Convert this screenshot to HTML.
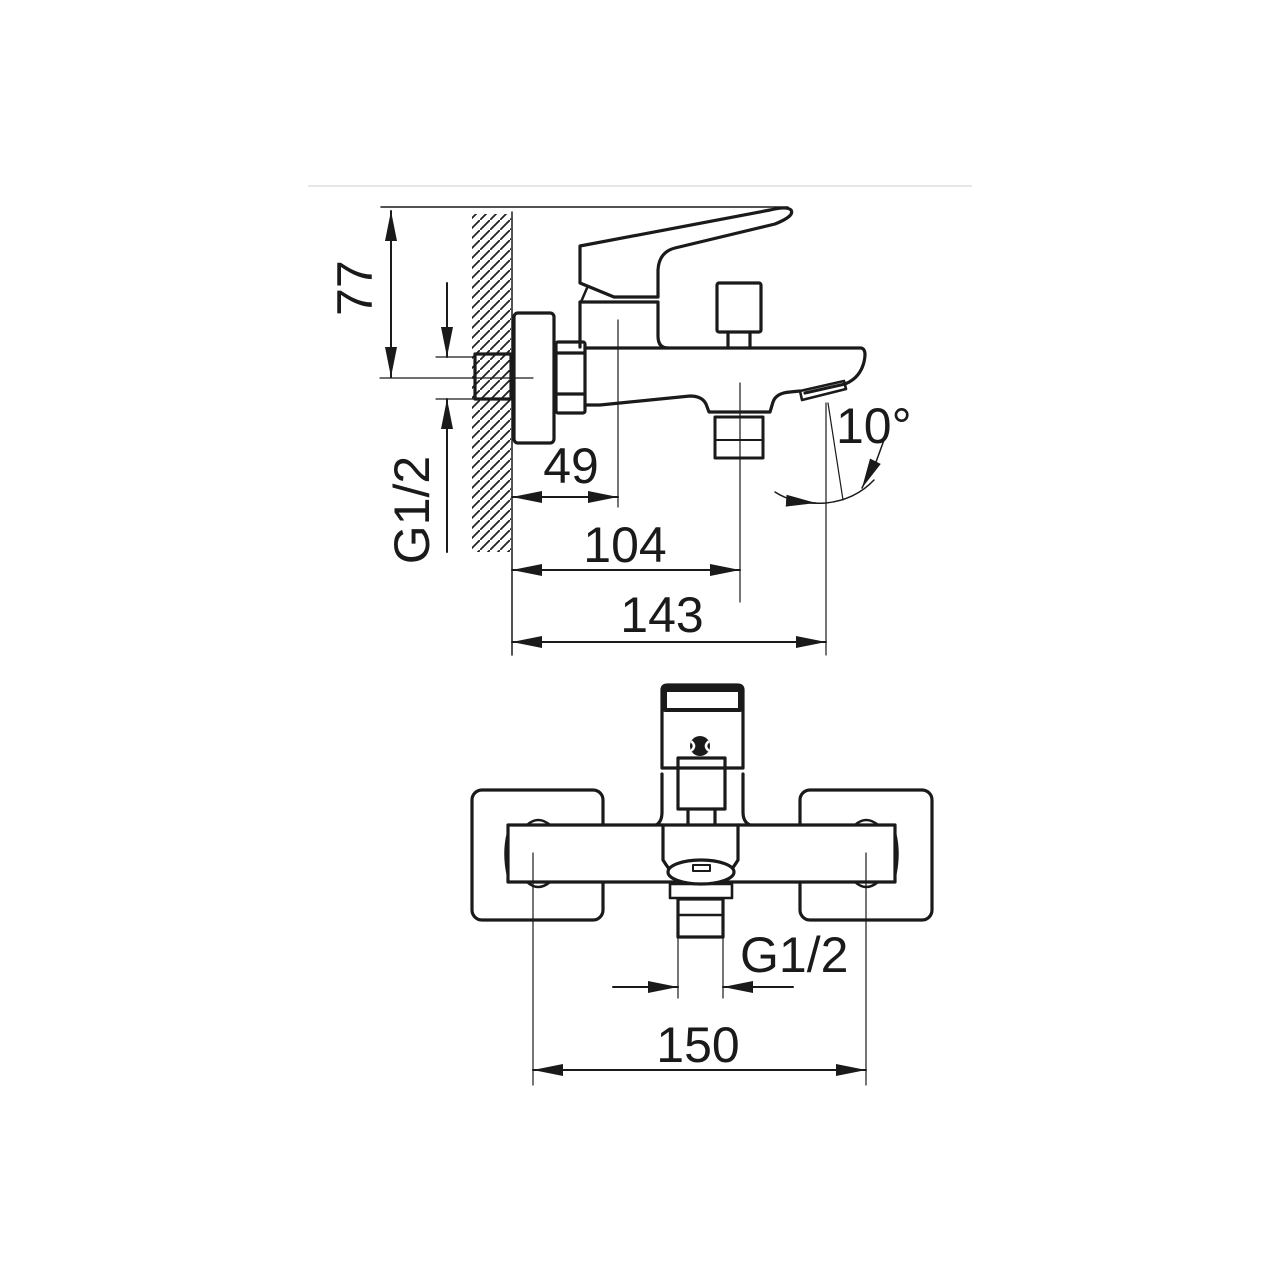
<!DOCTYPE html>
<html><head><meta charset="utf-8"><style>
html,body{margin:0;padding:0;background:#fff;}
svg{display:block;}
text{font-family:"Liberation Sans",sans-serif;fill:#1a1a1a;}
</style></head><body>
<svg width="1280" height="1280" viewBox="0 0 1280 1280" xmlns="http://www.w3.org/2000/svg">
<defs>
<marker id="a" viewBox="0 0 30 12" refX="30" refY="6" markerWidth="30" markerHeight="12" markerUnits="userSpaceOnUse" orient="auto-start-reverse"><path d="M0,0 L30,6 L0,12 Z" fill="#1a1a1a"/></marker>
<pattern id="h" width="10" height="10" patternUnits="userSpaceOnUse"><path d="M-2,12 L12,-2" stroke="#222" stroke-width="1.8"/></pattern>
</defs>
<line x1="308" y1="186" x2="972" y2="186" stroke="#ccc" stroke-width="1"/>
<g fill="none" stroke="#1a1a1a" stroke-linecap="round" stroke-linejoin="round">
<line x1="381" y1="207" x2="788" y2="207" stroke-width="1.5"/>
<line x1="391" y1="211" x2="391" y2="377" stroke-width="2" marker-start="url(#a)" marker-end="url(#a)"/>
<line x1="380" y1="378" x2="533" y2="378" stroke-width="1.2"/>
<rect x="472" y="214" width="39" height="338" fill="url(#h)" stroke="none"/>
<line x1="512" y1="212" x2="512" y2="655" stroke-width="1.5"/>
<line x1="447" y1="283" x2="447" y2="357" stroke-width="2" marker-end="url(#a)"/>
<line x1="447" y1="552" x2="447" y2="399" stroke-width="2" marker-end="url(#a)"/>
<line x1="436" y1="357" x2="475" y2="357" stroke-width="1.2"/>
<line x1="436" y1="399" x2="475" y2="399" stroke-width="1.2"/>
<line x1="618" y1="320" x2="618" y2="507" stroke-width="1.2"/>
<line x1="565" y1="497" x2="618" y2="497" stroke-width="2" marker-end="url(#a)"/>
<line x1="565" y1="497" x2="512" y2="497" stroke-width="2" marker-end="url(#a)"/>
<line x1="740" y1="383" x2="740" y2="602" stroke-width="1.2"/>
<line x1="626" y1="570" x2="740" y2="570" stroke-width="2" marker-end="url(#a)"/>
<line x1="626" y1="570" x2="512" y2="570" stroke-width="2" marker-end="url(#a)"/>
<line x1="826" y1="403" x2="826" y2="655" stroke-width="1.2"/>
<line x1="669" y1="642" x2="826" y2="642" stroke-width="2" marker-end="url(#a)"/>
<line x1="669" y1="642" x2="512" y2="642" stroke-width="2" marker-end="url(#a)"/>
<line x1="828" y1="403" x2="843" y2="500" stroke-width="1.2"/>
<path d="M775,492 Q795,505 826,503 Q855,500 874,480" stroke-width="1.5"/>
<line x1="790" y1="501" x2="816" y2="503" stroke-width="1.5" marker-end="url(#a)"/>
<line x1="875" y1="462" x2="862" y2="488" stroke-width="1.5" marker-end="url(#a)"/>
<line x1="884" y1="440" x2="876" y2="462" stroke-width="1.5"/>
<g stroke-width="3.2">
<rect x="475" y="354" width="36" height="45"/>
<rect x="514" y="313" width="40" height="130" rx="4"/>
<rect x="556" y="342" width="29" height="71" rx="2"/>
<line x1="556" y1="353" x2="585" y2="353"/>
<line x1="556" y1="394" x2="585" y2="394"/>
<path d="M585,348 L861,348 Q867,349 864,362 Q860,378 845,384 L805,393"/>
<path d="M585,405 L600,405 L690,396 Q702,396 706,404 L709,412 L770,412 L773,402 Q776,393 790,392 L800,391"/>
<path d="M800,391 L844,381 L846,389 L802,400 Z" stroke-width="2.6"/>
<rect x="715" y="417" width="48" height="41" stroke-width="3"/>
<line x1="715" y1="440" x2="763" y2="440" stroke-width="2"/>
<path d="M580,347 L580,302 L657,302"/>
<path d="M658,302 L658,336 Q658,348 668,348"/>
<path d="M580,246 L580,283 L614,297 L658,297 L658,270 Q659,252 675,248 L775,224 Q795,216 791,210 Q787,206 770,210 L580,246 Z"/>
<path d="M587,288 L581,302" stroke-width="2.5"/>
<rect x="717" y="283" width="44" height="49" rx="2"/>
<path d="M728,332 L728,348 M750,332 L750,348"/>
</g>
<g stroke-width="3.2">
<rect x="472" y="790" width="131" height="130" rx="10"/>
<rect x="800" y="790" width="132" height="130" rx="10"/>
<path d="M508,825 L895,825 L895,882 L508,882 Z" fill="#fff"/>
<path d="M508,833 Q503,853 508,876 M895,833 Q900,853 895,876" stroke-width="2.5"/>
<path d="M527,825 Q538,815 550,825 M527,882 Q538,892 550,882 M855,825 Q866,815 878,825 M855,882 Q866,892 878,882" stroke-width="2.5"/>
<path d="M662,690 Q662,685 668,685 L737,685 Q743,685 743,690 L743,768 L662,768 Z"/>
<rect x="662" y="686" width="81" height="26" fill="#1a1a1a" stroke="none" rx="3"/>
<rect x="667" y="692" width="71" height="16" fill="#fff" stroke="none"/>
<path d="M662,774 L662,812 Q662,822 656,825 M743,774 L743,812 Q743,822 750,825"/>
<rect x="678" y="758" width="47" height="51"/>
<path d="M688,809 L688,825 M715,809 L715,825"/>
<path d="M663,825 L663,860 Q668,868 673,874 M738,825 L738,860 Q733,868 728,874"/>
<ellipse cx="701" cy="872" rx="33" ry="12" fill="#fff"/>
<rect x="693" y="865" width="17" height="6" stroke-width="2"/>
<rect x="670" y="884" width="62" height="14" stroke-width="2.6"/>
<rect x="678" y="899" width="45" height="38"/>
<line x1="678" y1="915" x2="723" y2="915" stroke-width="2.5"/>
</g>
<circle cx="700" cy="746" r="10" fill="#1a1a1a" stroke="none"/>
<path d="M692,742 Q696,746 692,750 M708,742 Q704,746 708,750" stroke="#fff" stroke-width="2.5"/>
<line x1="678" y1="937" x2="678" y2="998" stroke-width="1.2"/>
<line x1="723" y1="937" x2="723" y2="998" stroke-width="1.2"/>
<line x1="613" y1="987" x2="678" y2="987" stroke-width="2" marker-end="url(#a)"/>
<line x1="793" y1="987" x2="723" y2="987" stroke-width="2" marker-end="url(#a)"/>
<line x1="533" y1="853" x2="533" y2="1085" stroke-width="1.2"/>
<line x1="866" y1="853" x2="866" y2="1085" stroke-width="1.2"/>
<line x1="700" y1="1070" x2="533" y2="1070" stroke-width="2" marker-end="url(#a)"/>
<line x1="700" y1="1070" x2="866" y2="1070" stroke-width="2" marker-end="url(#a)"/>
</g>
<g font-size="50">
<text x="0" y="0" transform="translate(372,288) rotate(-90)" text-anchor="middle">77</text>
<text x="0" y="0" transform="translate(429,510) rotate(-90)" text-anchor="middle">G1/2</text>
<text x="571" y="483" text-anchor="middle">49</text>
<text x="625" y="562" text-anchor="middle">104</text>
<text x="662" y="632" text-anchor="middle">143</text>
<text x="836" y="443">10°</text>
<text x="740" y="972">G1/2</text>
<text x="698" y="1062" text-anchor="middle">150</text>
</g>
</svg>
</body></html>
